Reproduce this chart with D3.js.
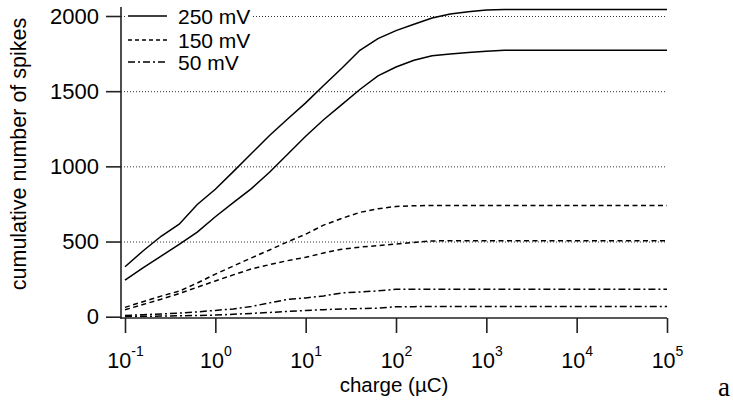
<!DOCTYPE html>
<html>
<head>
<meta charset="utf-8">
<script src="https://cdn.jsdelivr.net/npm/d3@7"></script>
<style>
  html, body { margin: 0; padding: 0; background: #fff; }
  svg { display: block; }
  text { font-family: "Liberation Sans", Arial, Helvetica, sans-serif; fill: #000; }
</style>
</head>
<body>
<svg id="chart" width="733" height="401"></svg>
<script>
// ---- data ----
const charge = [0.1, 0.158, 0.251, 0.398, 0.631, 1, 1.58, 2.51, 3.98, 6.31, 10, 15.8, 25.1, 39.8, 63.1,
                100, 158, 251, 398, 631, 1000, 1585, 10000, 100000];
const upper250 = [332, 437, 535, 615, 746, 848, 965, 1085, 1205, 1315, 1422, 1538, 1652, 1772, 1850,
                  1903, 1945, 1987, 2014, 2029, 2040, 2044, 2044, 2044];
const lower250 = [244, 324, 403, 481, 563, 665, 759, 852, 961, 1081, 1200, 1310, 1411, 1511, 1602,
                  1661, 1706, 1735, 1747, 1757, 1766, 1773, 1773, 1773];
const upper150 = [62, 100, 137, 170, 224, 283, 337, 391, 444, 498, 549, 609, 654, 694, 718,
                  733, 738, 740, 740, 740, 740, 740, 740, 740];
const lower150 = [46, 81, 116, 154, 196, 238, 278, 318, 346, 373, 395, 424, 449, 463, 473,
                  484, 494, 504, 505, 505, 505, 505, 505, 505];
const upper50 = [8, 13, 18, 24, 32, 42, 52, 68, 92, 115, 125, 138, 158, 164, 172,
                 182, 182, 182, 182, 182, 182, 182, 182, 182];
const lower50 = [2, 3, 4, 6, 8, 11, 16, 22, 28, 35, 41, 47, 51, 54, 57,
                 66, 67, 68, 68, 68, 68, 68, 68, 68];
const legendLabels = ["250 mV", "150 mV", "50 mV"];
const xTickExps = [-1, 0, 1, 2, 3, 4, 5];
const yTicks = [0, 500, 1000, 1500, 2000];
const gridValues = [500, 1000, 1500, 2000];

// ---- styles ----
const dashStyles = { "250 mV": null, "150 mV": "5,3.5", "50 mV": "7,3,2,3" };
const seriesList = [
  { key: "250 mV", values: upper250 },
  { key: "250 mV", values: lower250 },
  { key: "150 mV", values: upper150 },
  { key: "150 mV", values: lower150 },
  { key: "50 mV", values: upper50 },
  { key: "50 mV", values: lower50 }
];

const svg = d3.select("#chart");
const x = d3.scaleLog().domain([0.1, 1e5]).range([125, 667]);
const y = d3.scaleLinear().domain([0, 2000]).range([316.7, 16]);
const axisY = 318, axisX = 121;

// gridlines
svg.append("g").selectAll("line").data(gridValues).join("line")
  .attr("x1", axisX).attr("x2", 667)
  .attr("y1", d => y(d) + 0.5).attr("y2", d => y(d) + 0.5)
  .attr("stroke", "#333").attr("stroke-width", 1)
  .attr("stroke-dasharray", "1,2");

// curves
const line = d3.line().x(d => x(d[0])).y(d => y(d[1]));
svg.append("g").selectAll("path").data(seriesList).join("path")
  .attr("d", s => line(charge.map((c, i) => [c, s.values[i]])))
  .attr("fill", "none").attr("stroke", "#000").attr("stroke-width", 1.5)
  .attr("stroke-dasharray", s => dashStyles[s.key]);

// y axis
const yAxis = d3.axisLeft(y).tickValues(yTicks).tickSize(15).tickPadding(7).tickFormat(d3.format("d"));
const gy = svg.append("g").attr("transform", `translate(${axisX},0)`).call(yAxis);
gy.select(".domain").remove();
gy.selectAll(".tick line").attr("stroke", "#222").attr("stroke-width", 1.6);
gy.selectAll(".tick text").attr("font-size", 22).attr("font-family", null).attr("fill", "#000");
svg.append("line").attr("x1", axisX).attr("x2", axisX).attr("y1", 7).attr("y2", axisY + 1)
  .attr("stroke", "#222").attr("stroke-width", 1.6);

// x axis
const xAxis = d3.axisBottom(x).tickValues(xTickExps.map(e => Math.pow(10, e))).tickSize(15).tickFormat("");
const gx = svg.append("g").attr("transform", `translate(0,${axisY})`).call(xAxis);
gx.select(".domain").remove();
gx.selectAll(".tick line").attr("stroke", "#222").attr("stroke-width", 1.6);
svg.append("line").attr("x1", axisX).attr("x2", 667).attr("y1", axisY).attr("y2", axisY)
  .attr("stroke", "#222").attr("stroke-width", 1.6);
const lbl = gx.selectAll(".tick").append("text")
  .attr("y", 50).attr("text-anchor", "middle").attr("fill", "#000");
lbl.append("tspan").attr("font-size", 21.5).text("10");
lbl.append("tspan").attr("font-size", 14).attr("dy", -12).text((d, i) => String(xTickExps[i]));

// axis titles
svg.append("text").attr("x", 394).attr("y", 392).attr("text-anchor", "middle")
  .attr("font-size", 20.5).text("charge (\u00B5C)");
svg.append("text").attr("transform", "translate(26,154) rotate(-90)").attr("text-anchor", "middle")
  .attr("font-size", 21.5).text("cumulative number of spikes");
svg.append("text").attr("x", 718).attr("y", 396)
  .style("font-family", "'Liberation Serif', 'Times New Roman', serif")
  .attr("font-size", 27).text("a");

// legend
const lg = svg.append("g");
lg.append("rect").attr("x", 126).attr("y", 4).attr("width", 126).attr("height", 72).attr("fill", "#fff");
const rowY = [16, 40, 62];
const rows = lg.selectAll("g.row").data(legendLabels).join("g").attr("class", "row");
rows.append("line").attr("x1", 128).attr("x2", 167)
  .attr("y1", (d, i) => rowY[i]).attr("y2", (d, i) => rowY[i])
  .attr("stroke", "#000").attr("stroke-width", 1.5)
  .attr("stroke-dasharray", d => d === "150 mV" ? "4,3" : dashStyles[d]);
rows.append("text").attr("x", 178).attr("y", (d, i) => rowY[i] + 8)
  .attr("font-size", 21).text(d => d);
</script>
</body>
</html>
